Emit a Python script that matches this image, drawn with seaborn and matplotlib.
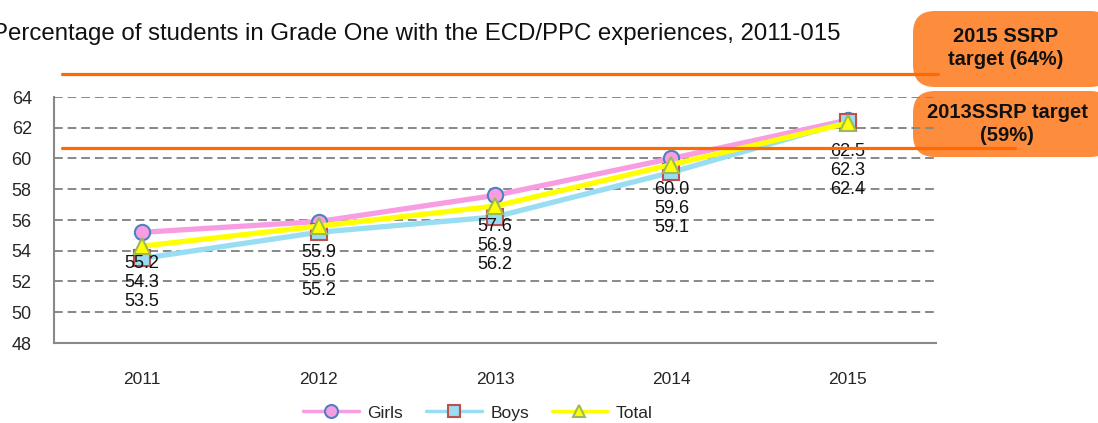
import matplotlib
matplotlib.use("Agg")
import matplotlib.pyplot as plt
import seaborn as sns
import pandas as pd
from matplotlib.patches import FancyBboxPatch

years = ["2011", "2012", "2013", "2014", "2015"]
girls = [55.2, 55.9, 57.6, 60.0, 62.5]
total = [54.3, 55.6, 56.9, 59.6, 62.3]
boys = [53.5, 55.2, 56.2, 59.1, 62.4]
target_2015 = 65.5   # drawn position of the 2015 target line
target_2013 = 60.7   # drawn position of the 2013 target line
yticks = [48, 50, 52, 54, 56, 58, 60, 62, 64]

sns.set_theme(style="white")
plt.rcParams['font.family'] = ['Liberation Sans', 'DejaVu Sans']

W, H = 1098, 423
fig = plt.figure(figsize=(W / 100, H / 100), dpi=100)
ax = fig.add_axes([54 / W, 1 - 343 / H, 882 / W, 246 / H])
ax.set_zorder(6)
ax.patch.set_visible(False)

pos = list(range(len(years)))
df = pd.DataFrame({"pos": pos * 3,
                   "value": girls + boys + total,
                   "series": ["Girls"] * 5 + ["Boys"] * 5 + ["Total"] * 5})

styles = {
    "Girls": dict(color="#F99DE3", marker="o", mfc="#F99DE3", mec="#4F81BD"),
    "Boys": dict(color="#99DDF2", marker="s", mfc="#99DDF2", mec="#C0504D"),
    "Total": dict(color="#FFFF00", marker="^", mfc="#FFFF00", mec="#9BBB59"),
}
for name in ["Girls", "Boys", "Total"]:
    st = styles[name]
    sub = df[df.series == name]
    sns.lineplot(data=sub, x="pos", y="value", ax=ax, color=st["color"],
                 linewidth=3.8, marker=st["marker"], markersize=11,
                 markerfacecolor=st["mfc"], markeredgecolor=st["mec"],
                 markeredgewidth=1.5, label=name, zorder=3)

# data labels stacked below each year's girls point
for i in pos:
    for k, vals in enumerate([girls, total, boys]):
        ax.annotate(f"{vals[i]:.1f}", xy=(i, girls[i]), xytext=(0, -31 - 19 * k),
                    textcoords="offset pixels", ha="center", va="center",
                    fontsize=13, color="#111111", zorder=4)

ax.set_xlim(-0.5, 4.5)
ax.set_ylim(48, 64)
ax.set_yticks(yticks)
ax.set_yticklabels([str(t) for t in yticks], fontsize=13)
ax.set_xticks(pos)
ax.set_xticklabels(years, fontsize=12.5)
ax.set_xticks([p + 0.5 for p in pos], minor=True)
ax.tick_params(axis="x", which="major", length=0, pad=21)
ax.tick_params(axis="x", which="minor", length=5, width=1.4, color="#888888", direction="out")
ax.tick_params(axis="y", length=5, width=1.4, color="#888888", direction="out", pad=11)
ax.set_xlabel("")
ax.set_ylabel("")
ax.yaxis.grid(True, linestyle=(0, (4.5, 2.5)), color="#888888", linewidth=1.4)
ax.set_axisbelow(True)
for s in ["top", "right"]:
    ax.spines[s].set_visible(False)
for s in ["left", "bottom"]:
    ax.spines[s].set_color("#888888")
    ax.spines[s].set_linewidth(1.5)

# target lines
ax.axhline(target_2015, xmin=8 / 882, xmax=884 / 882, color="#FF6A00",
           linewidth=2.3, clip_on=False, zorder=6)
ax.axhline(target_2013, xmin=8 / 882, xmax=961 / 882, color="#FF6A00",
           linewidth=2.3, clip_on=False, zorder=6)


def px_box(x0, y0, x1, y1):
    return FancyBboxPatch((x0 / 100, (H - y1) / 100), (x1 - x0) / 100, (y1 - y0) / 100,
                          boxstyle="round,pad=0,rounding_size=0.22",
                          transform=fig.dpi_scale_trans, facecolor="#FD8D3C",
                          edgecolor="none", zorder=5)


fig.patches.extend([px_box(913, 11, 1112, 87), px_box(913, 91, 1112, 157)])
fig.text(1006 / W, 1 - 48 / H, "2015 SSRP\ntarget (64%)", ha="center", va="center",
         fontsize=14.5, fontweight="bold", color="#111111", linespacing=1.25, zorder=7)
fig.text(1007 / W, 1 - 124 / H, "2013SSRP target\n(59%)", ha="center", va="center",
         fontsize=14.5, fontweight="bold", color="#111111", linespacing=1.25, zorder=7)

fig.text(-8 / W, 1 - 34 / H, "Percentage of students in Grade One with the ECD/PPC experiences, 2011-015",
         ha="left", va="center", fontsize=17.3, color="#111111")

handles, labels = ax.get_legend_handles_labels()
leg = ax.legend(handles, labels, loc="center", bbox_to_anchor=(478 / W, 1 - 413 / H),
                bbox_transform=fig.transFigure, ncol=3, frameon=False, fontsize=12.5,
                handlelength=3.2, columnspacing=1.3, handletextpad=0.5, markerscale=0.85)
for ln in leg.get_lines():
    ln.set_linewidth(2.5)

fig.savefig("out.png", dpi=100)
